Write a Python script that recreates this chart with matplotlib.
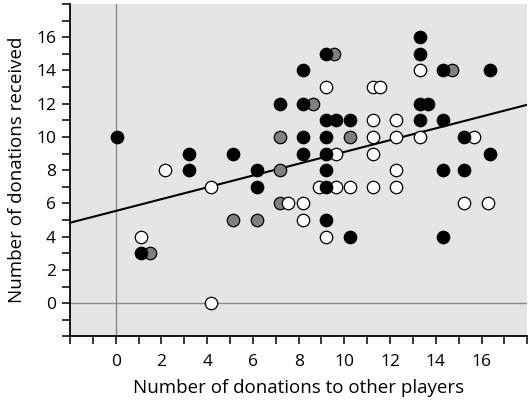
import matplotlib
matplotlib.use("Agg")
import matplotlib.pyplot as plt
import numpy as np

plt.rcParams["font.family"] = ["Open Sans", "DejaVu Sans"]

# players that donated a lot (black), medium (gray), little (white)
black_x = [0.05, 3.2, 3.2, 5.15, 6.2, 6.2, 7.2, 8.2, 8.2, 8.2, 8.2, 9.2, 13.3, 13.3, 14.3, 16.35,
           13.3, 13.65, 9.2, 9.65, 10.25, 13.3, 14.3, 9.2, 15.25, 9.2, 16.35, 9.2, 14.3, 15.25,
           9.2, 9.2, 10.25, 14.3, 1.1]
black_y = [10, 9, 8, 9, 8, 7, 12, 14, 12, 10, 9, 15, 16, 15, 14, 14,
           12, 12, 11, 11, 11, 11, 11, 10, 10, 9, 9, 8, 8, 8,
           7, 5, 4, 4, 3]

gray_x = [7.2, 7.2, 9.55, 14.7, 8.65, 10.25, 7.2, 5.15, 6.2, 1.5]
gray_y = [8, 10, 15, 14, 12, 10, 6, 5, 5, 3]

white_x = [2.15, 4.15, 13.3, 9.2, 11.25, 11.55, 11.25, 12.25, 11.25, 12.25, 13.3, 15.65, 9.65, 11.25,
           12.25, 8.9, 9.65, 10.25, 11.25, 12.25, 8.2, 7.55, 15.25, 16.3, 8.2, 9.2, 1.1, 4.15]
white_y = [8, 7, 14, 13, 13, 13, 11, 11, 10, 10, 10, 10, 9, 9,
           8, 7, 7, 7, 7, 7, 6, 6, 6, 6, 5, 4, 4, 0]

fit_intercept = 5.55
fit_slope = 0.355

fig = plt.figure(figsize=(5.28, 4.01), dpi=100)
ax = fig.add_axes([0.1326, 0.161, 0.866, 0.829])
ax.set_facecolor("#e5e5e5")

ax.axhline(0, color="#8a8a8a", lw=1, zorder=1)
ax.axvline(0, color="#8a8a8a", lw=1, zorder=1)

line_x = np.array([-2, 18])
ax.plot(line_x, fit_intercept + fit_slope * line_x, color="black", lw=1.5, zorder=2)

ms = 80
ax.scatter(gray_x, gray_y, s=ms, c="#7f7f7f", edgecolors="black", linewidths=0.9, zorder=3)
ax.scatter(white_x, white_y, s=ms, c="white", edgecolors="black", linewidths=0.9, zorder=4)
ax.scatter(black_x, black_y, s=ms, c="black", edgecolors="black", linewidths=0.9, zorder=5)

ax.set_xlim(-2, 18)
ax.set_ylim(-2, 18)

xt = list(range(-2, 19))
ax.set_xticks(xt)
ax.set_xticklabels([str(v) if 0 <= v <= 16 and v % 2 == 0 else "" for v in xt])
yt = list(range(-2, 19))
ax.set_yticks(yt)
ax.set_yticklabels([str(v) if 0 <= v <= 16 and v % 2 == 0 else "" for v in yt])
ax.tick_params(axis="x", direction="out", length=6, width=1.1, labelsize=12.5, pad=7)
ax.tick_params(axis="y", direction="out", length=6, width=1.1, labelsize=12.5, pad=4)

for side in ["top", "right"]:
    ax.spines[side].set_visible(False)
for side in ["left", "bottom"]:
    ax.spines[side].set_linewidth(1.3)

ax.set_xlabel("Number of donations to other players", fontsize=13.5, labelpad=6)
ax.set_ylabel("Number of donations received", fontsize=13.5, labelpad=7)

fig.savefig("out.png", dpi=100)
